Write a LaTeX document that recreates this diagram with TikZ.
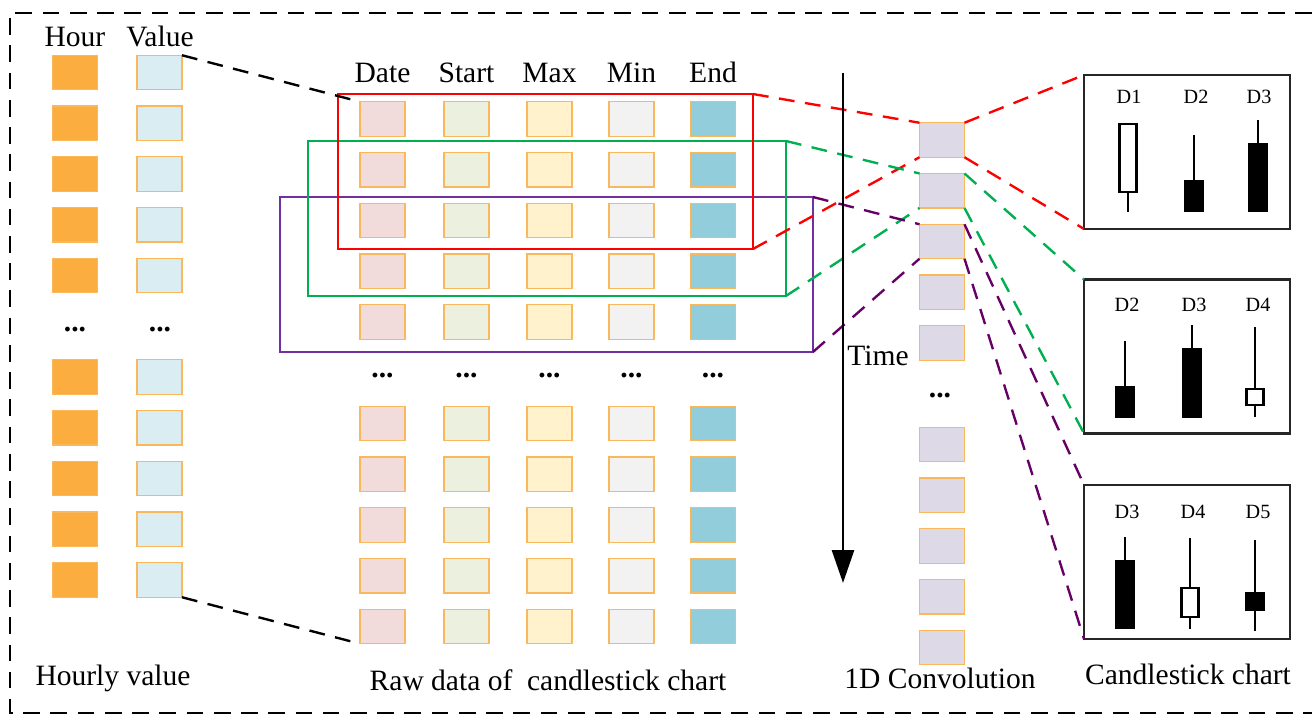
\documentclass[tikz,border=0pt]{standalone}
\usepackage{fontspec}
\setmainfont{Liberation Serif}
\usetikzlibrary{arrows.meta}
\definecolor{cellline}{RGB}{249,184,92}
\definecolor{hourfill}{RGB}{251,173,64}
\definecolor{valuefill}{RGB}{218,237,242}
\definecolor{datefill}{RGB}{242,220,219}
\definecolor{startfill}{RGB}{235,241,222}
\definecolor{maxfill}{RGB}{255,242,204}
\definecolor{minfill}{RGB}{242,242,242}
\definecolor{endfill}{RGB}{146,205,220}
\definecolor{convfill}{RGB}{221,217,231}
\definecolor{winred}{RGB}{255,0,0}
\definecolor{wingreen}{RGB}{0,176,80}
\definecolor{winpurple}{RGB}{112,48,160}
\definecolor{linepurple}{RGB}{102,0,102}
\tikzset{
  cell/.style={draw=cellline, line width=0.7pt, minimum width=0.9cm, minimum height=0.69cm, inner sep=0pt, outer sep=0pt},
  lbl/.style={anchor=base, inner sep=0pt, font=\fontsize{16.8}{20}\selectfont},
  small/.style={anchor=base, inner sep=0pt, font=\fontsize{11.5}{14}\selectfont},
  dots/.style={inner sep=0pt, font=\bfseries\fontsize{16.8}{20}\selectfont},
  window/.style={line width=1.3pt, minimum height=3.1cm, inner sep=0pt, outer sep=0pt},
  chartbox/.style={draw=black!85, line width=1.4pt, minimum width=4.12cm, minimum height=3.08cm, inner sep=0pt, outer sep=0pt},
  frame/.style={line width=1.7pt, dash pattern=on 9.5pt off 6pt},
  link/.style={line width=1.35pt, dash pattern=on 9pt off 6pt},
  wick/.style={line width=1.3pt},
  body/.style={draw=black, line width=1.3pt}
}
\newcommand{\drawcandle}[6]{%
  \draw[wick] (#1,#2) -- (#1,#3);
  \draw[body, fill=#6] (#1-8.5,#4) rectangle (#1+8.5,#5);
}

\begin{document}
\begin{tikzpicture}[x=0.02cm, y=-0.02cm]
\useasboundingbox (0,0) rectangle (1312,716);

% outer dashed frame
\draw[frame] (1312,13) -- (10,13) -- (10,713) -- (1312,713);

% hourly value
\node[lbl] (hourhead) at (75,47) {Hour};
\node[lbl] (valuehead) at (160,47) {Value};
\foreach \i in {0,1,2,3,4,6,7,8,9,10} {
  \node[cell, fill=hourfill] (hour\i) at (75,72.5+50.75*\i) {};
  \node[cell, fill=valuefill] (value\i) at (159.5,72.5+50.75*\i) {};
}
\node[dots] (hourdots) at (75,330) {...};
\node[dots] (valuedots) at (160,330) {...};
\node[lbl] (hourly) at (113,685) {Hourly value};

% raw data table
\foreach \x/\n/\t in {382.5/date/Date, 466.5/start/Start, 549.5/max/Max, 631.5/min/Min, 713/end/End} {
  \node[lbl] (\n head) at (\x,83) {\t};
  \foreach \i in {0,1,2,3,4,6,7,8,9,10}
    \node[cell, fill=\n fill] (\n\i) at (\x,119+50.75*\i) {};
  \node[dots] (\n dots) at (\x,376) {...};
}
\node[lbl] (rawlbl) at (548,690) {Raw data of \ candlestick chart};

% sliding windows
\node[window, draw=winpurple, minimum width=10.66cm] (purplewin) at (546.5,274.5) {};
\node[window, draw=wingreen, minimum width=9.56cm] (greenwin) at (547,218.5) {};
\node[window, draw=winred, minimum width=8.3cm] (redwin) at (545.5,171.5) {};

\draw[link] (value0.north east) -- (date0.north west);
\draw[link] (value10.south east) -- (date10.south west);

% 1D convolution
\foreach \i in {0,1,2,3,4,6,7,8,9,10}
  \node[cell, fill=convfill] (conv\i) at (942,140+50.75*\i) {};
\node[dots] (convdots) at (940,396) {...};
\node[lbl] (convlbl) at (940,688) {1D Convolution};

% candlestick charts
\node[chartbox] (chart1) at (1187,152) {};
\node[chartbox] (chart2) at (1187,356.5) {};
\node[chartbox] (chart3) at (1187,562) {};
\node[lbl] (chartlbl) at (1188,684) {Candlestick chart};

\draw[link, winred] (redwin.north east) -- (conv0.north west);
\draw[link, winred] (redwin.south east) -- (conv0.south west);
\draw[link, winred] (conv0.north east) -- (chart1.north west);
\draw[link, winred] (conv0.south east) -- (chart1.south west);
\draw[link, wingreen] (greenwin.north east) -- (conv1.north west);
\draw[link, wingreen] (greenwin.south east) -- (conv1.south west);
\draw[link, wingreen] (conv1.north east) -- (chart2.north west);
\draw[link, wingreen] (conv1.south east) -- (chart2.south west);
\draw[link, linepurple] (purplewin.north east) -- (conv2.north west);
\draw[link, linepurple] (purplewin.south east) -- (conv2.south west);
\draw[link, linepurple] (conv2.north east) -- (chart3.north west);
\draw[link, linepurple] (conv2.south east) -- (chart3.south west);

% time axis
\coordinate (timetop) at (843,73);
\coordinate (timebot) at (843,583);
\draw[line width=1.6pt, -{Triangle[length=0.66cm, width=0.44cm]}] (timetop) -- (timebot);
\node[lbl] (timelbl) at (878,365) {Time};

% candles
\node[small] (c1d1) at (1129,104) {D1};
\node[small] (c1d2) at (1196,104) {D2};
\node[small] (c1d3) at (1259,104) {D3};
\drawcandle{1128}{124}{212}{124}{192}{white}
\drawcandle{1194}{135}{211}{181}{211}{black}
\drawcandle{1258}{120}{211}{144}{211}{black}

\node[small] (c2d2) at (1127,312) {D2};
\node[small] (c2d3) at (1194,312) {D3};
\node[small] (c2d4) at (1258,312) {D4};
\drawcandle{1125}{341}{417}{387}{417}{black}
\drawcandle{1192}{325}{417}{349}{417}{black}
\drawcandle{1255}{327}{417}{389}{405}{white}

\node[small] (c3d3) at (1127,518) {D3};
\node[small] (c3d4) at (1193,518) {D4};
\node[small] (c3d5) at (1258,518) {D5};
\drawcandle{1125}{537}{628}{561}{628}{black}
\drawcandle{1190}{538}{629}{588}{617}{white}
\drawcandle{1255}{540}{631}{593}{610}{black}
\end{tikzpicture}
\end{document}
